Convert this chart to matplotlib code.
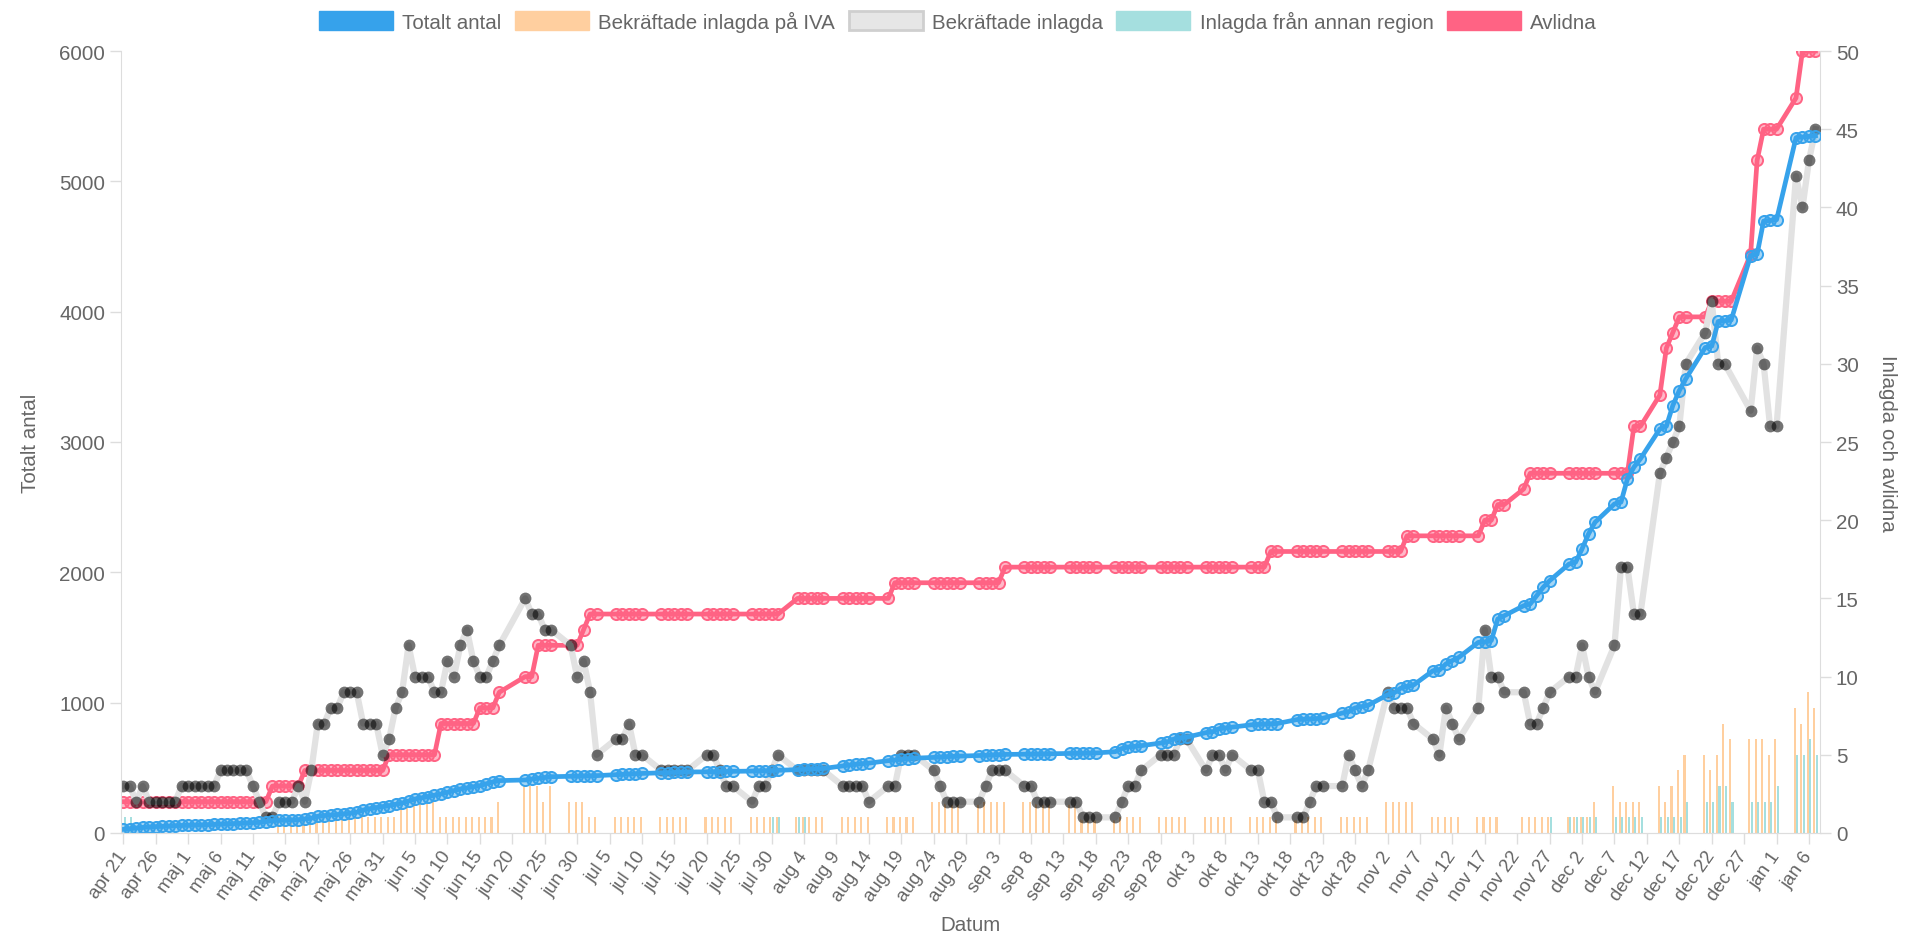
import matplotlib.pyplot as plt
import numpy as np
from matplotlib.patches import Patch

plt.rcParams['font.family'] = ['Liberation Sans', 'DejaVu Sans']

N = None
# en rad per vecka, dag 0 = tis 21 apr 2020 ; None = ingen rapport (helg/helgdag)
totalt_antal = [
    28, 33, 38, 43, 46, 49, 51,
    53, 56, 58, 59, 61, 62, 64,
    66, 68, 70, 72, 74, 77, 79,
    82, 88, 95, 97, 99, 100, 102,
    108, 113, 128, 134, 138, 142, 146,
    152, 159, 176, 186, 195, 203, 210,
    220, 230, 245, 261, 270, 280, 290,
    299, 312, 325, 338, 346, 355, 363,
    378, 392, 402, N, N, N, 407,
    414, 420, 426, 432, N, N, 435,
    436, 438, 439, 440, N, N, 447,
    450, 453, 455, 457, N, N, 462,
    464, 466, 467, 468, N, N, 469,
    470, 471, 472, 473, N, N, 475,
    477, 478, 479, 481, N, N, 486,
    488, 491, 493, 495, N, N, 515,
    522, 528, 532, 536, N, N, 555,
    560, 566, 570, 574, N, N, 580,
    583, 586, 588, 590, N, N, 594,
    596, 599, 601, 603, N, N, 604,
    605, 606, 607, 608, N, N, 610,
    611, 612, 613, 614, N, N, 624,
    648, 660, 665, 670, N, N, 690,
    698, 720, 728, 735, N, N, 770,
    776, 800, 806, 812, N, N, 830,
    833, 835, 838, 840, N, N, 870,
    873, 875, 878, 880, N, N, 920,
    930, 960, 970, 980, N, N, 1060,
    1075, 1110, 1125, 1135, N, N, 1245,
    1250, 1297, 1323, 1348, N, N, 1463,
    1465, 1476, 1642, 1667, N, N, 1744,
    1757, 1821, 1885, 1936, N, N, 2064,
    2077, 2180, 2295, 2384, N, N, 2525,
    2538, 2717, 2807, 2871, N, N, 3100,
    3120, 3280, 3395, 3485, N, N, 3725,
    3735, 3925, 3930, 3935, N, N, 4430,
    4440, 4695, 4700, 4705, N, N, 5335,
    5340, 5345, 5350,
]

avlidna = [
    2, 2, 2, 2, 2, 2, 2,
    2, 2, 2, 2, 2, 2, 2,
    2, 2, 2, 2, 2, 2, 2,
    2, 2, 3, 3, 3, 3, 3,
    4, 4, 4, 4, 4, 4, 4,
    4, 4, 4, 4, 4, 4, 5,
    5, 5, 5, 5, 5, 5, 5,
    7, 7, 7, 7, 7, 7, 8,
    8, 8, 9, N, N, N, 10,
    10, 12, 12, 12, N, N, 12,
    12, 13, 14, 14, N, N, 14,
    14, 14, 14, 14, N, N, 14,
    14, 14, 14, 14, N, N, 14,
    14, 14, 14, 14, N, N, 14,
    14, 14, 14, 14, N, N, 15,
    15, 15, 15, 15, N, N, 15,
    15, 15, 15, 15, N, N, 15,
    16, 16, 16, 16, N, N, 16,
    16, 16, 16, 16, N, N, 16,
    16, 16, 16, 17, N, N, 17,
    17, 17, 17, 17, N, N, 17,
    17, 17, 17, 17, N, N, 17,
    17, 17, 17, 17, N, N, 17,
    17, 17, 17, 17, N, N, 17,
    17, 17, 17, 17, N, N, 17,
    17, 17, 18, 18, N, N, 18,
    18, 18, 18, 18, N, N, 18,
    18, 18, 18, 18, N, N, 18,
    18, 18, 19, 19, N, N, 19,
    19, 19, 19, 19, N, N, 19,
    20, 20, 21, 21, N, N, 22,
    23, 23, 23, 23, N, N, 23,
    23, 23, 23, 23, N, N, 23,
    23, 23, 26, 26, N, N, 28,
    31, 32, 33, 33, N, N, 33,
    34, 34, 34, 34, N, N, 37,
    43, 45, 45, 45, N, N, 47,
    50, 50, 50,
]

bekraftade_inlagda = [
    3, 3, 2, 3, 2, 2, 2,
    2, 2, 3, 3, 3, 3, 3,
    3, 4, 4, 4, 4, 4, 3,
    2, 1, 1, 2, 2, 2, 3,
    2, 4, 7, 7, 8, 8, 9,
    9, 9, 7, 7, 7, 5, 6,
    8, 9, 12, 10, 10, 10, 9,
    9, 11, 10, 12, 13, 11, 10,
    10, 11, 12, N, N, N, 15,
    14, 14, 13, 13, N, N, 12,
    10, 11, 9, 5, N, N, 6,
    6, 7, 5, 5, N, N, 4,
    4, 4, 4, 4, N, N, 5,
    5, 4, 3, 3, N, N, 2,
    3, 3, 4, 5, N, N, 4,
    4, 4, 4, 4, N, N, 3,
    3, 3, 3, 2, N, N, 3,
    3, 5, 5, 5, N, N, 4,
    3, 2, 2, 2, N, N, 2,
    3, 4, 4, 4, N, N, 3,
    3, 2, 2, 2, N, N, 2,
    2, 1, 1, 1, N, N, 1,
    2, 3, 3, 4, N, N, 5,
    5, 5, 6, 6, N, N, 4,
    5, 5, 4, 5, N, N, 4,
    4, 2, 2, 1, N, N, 1,
    1, 2, 3, 3, N, N, 3,
    5, 4, 3, 4, N, N, 9,
    8, 8, 8, 7, N, N, 6,
    5, 8, 7, 6, N, N, 8,
    13, 10, 10, 9, N, N, 9,
    7, 7, 8, 9, N, N, 10,
    10, 12, 10, 9, N, N, 12,
    17, 17, 14, 14, N, N, 23,
    24, 25, 26, 30, N, N, 32,
    34, 30, 30, N, N, N, 27,
    31, 30, 26, 26, N, N, 42,
    40, 43, 45,
]

inlagda_iva = [
    0, 0, 0, 0, 0, 0, 0,
    0, 0, 0, 0, 0, 0, 0,
    0, 0, 0, 0, 0, 0, 0,
    0, 0, 0, 1, 1, 1, 1,
    1, 1, 1, 1, 1, 1, 1,
    1, 1, 1, 1, 1, 1, 1,
    1, 2, 2, 2, 2, 2, 2,
    1, 1, 1, 1, 1, 1, 1,
    1, 1, 2, N, N, N, 3,
    3, 3, 2, 3, N, N, 2,
    2, 2, 1, 1, N, N, 1,
    1, 1, 1, 1, N, N, 1,
    1, 1, 1, 1, N, N, 1,
    1, 1, 1, 1, N, N, 1,
    1, 1, 1, 1, N, N, 1,
    1, 1, 1, 1, N, N, 1,
    1, 1, 1, 1, N, N, 1,
    1, 1, 1, 1, N, N, 2,
    2, 2, 2, 2, N, N, 2,
    2, 2, 2, 2, N, N, 2,
    2, 2, 2, 2, N, N, 2,
    2, 1, 1, 1, N, N, 1,
    1, 1, 1, 1, N, N, 1,
    1, 1, 1, 1, N, N, 1,
    1, 1, 1, 1, N, N, 1,
    1, 1, 1, 1, N, N, 1,
    1, 1, 1, 1, N, N, 1,
    1, 1, 1, 1, N, N, 2,
    2, 2, 2, 2, N, N, 1,
    1, 1, 1, 1, N, N, 1,
    1, 1, 1, 0, N, N, 1,
    1, 1, 1, 1, N, N, 1,
    1, 1, 1, 2, N, N, 3,
    2, 2, 2, 2, N, N, 3,
    2, 3, 4, 5, N, N, 5,
    4, 5, 7, 6, N, N, 6,
    6, 6, 5, 6, N, N, 8,
    7, 9, 8,
]

annan_region = [
    1, 1, 0, 0, 0, 0, 0,
    0, 0, 0, 0, 0, 0, 0,
    0, 0, 0, 0, 0, 0, 0,
    0, 0, 0, 0, 0, 0, 0,
    0, 0, 0, 0, 0, 0, 0,
    0, 0, 0, 0, 0, 0, 0,
    0, 0, 0, 0, 0, 0, 0,
    0, 0, 0, 0, 0, 0, 0,
    0, 0, 0, N, N, N, 0,
    0, 0, 0, 0, N, N, 0,
    0, 0, 0, 0, N, N, 0,
    0, 0, 0, 0, N, N, 0,
    0, 0, 0, 0, N, N, 0,
    0, 0, 0, 0, N, N, 0,
    0, 0, 1, 1, N, N, 1,
    1, 0, 0, 0, N, N, 0,
    0, 0, 0, 0, N, N, 0,
    0, 0, 0, 0, N, N, 0,
    0, 0, 0, 0, N, N, 0,
    0, 0, 0, 0, N, N, 0,
    0, 0, 0, 0, N, N, 0,
    0, 0, 0, 0, N, N, 0,
    0, 0, 0, 0, N, N, 0,
    0, 0, 0, 0, N, N, 0,
    0, 0, 0, 0, N, N, 0,
    0, 0, 0, 0, N, N, 0,
    0, 0, 0, 0, N, N, 0,
    0, 0, 0, 0, N, N, 0,
    0, 0, 0, 0, N, N, 0,
    0, 0, 0, 0, N, N, 0,
    0, 0, 0, 0, N, N, 0,
    0, 0, 0, 1, N, N, 1,
    1, 1, 1, 1, N, N, 1,
    1, 1, 1, 1, N, N, 1,
    1, 1, 1, 2, N, N, 2,
    2, 3, 3, 2, N, N, 2,
    2, 2, 2, 3, N, N, 5,
    5, 6, 5,
]

datum_etiketter = [
    "apr 21", "apr 26", "maj 1", "maj 6", "maj 11", "maj 16", "maj 21", "maj 26", "maj 31",
    "jun 5", "jun 10", "jun 15", "jun 20", "jun 25", "jun 30", "jul 5", "jul 10", "jul 15",
    "jul 20", "jul 25", "jul 30", "aug 4", "aug 9", "aug 14", "aug 19", "aug 24", "aug 29",
    "sep 3", "sep 8", "sep 13", "sep 18", "sep 23", "sep 28", "okt 3", "okt 8", "okt 13",
    "okt 18", "okt 23", "okt 28", "nov 2", "nov 7", "nov 12", "nov 17", "nov 22", "nov 27",
    "dec 2", "dec 7", "dec 12", "dec 17", "dec 22", "dec 27", "jan 1", "jan 6",
]

blue = "#36a2eb"
red = "#ff6384"
orange = "#ffcf9f"
teal = "#a5dfdf"
grey_line = "#e2e2e2"
axis_col = "#dddddd"
text_col = "#666666"
fs = 14.8

x = np.arange(len(totalt_antal))


def points(series):
    arr = np.array(series, dtype=float)
    ok = ~np.isnan(arr)
    return x[ok], arr[ok]


fig = plt.figure(figsize=(19.05, 9.37), dpi=100)
ax = fig.add_axes([121 / 1905, 103 / 937, 1699 / 1905, 782 / 937])
ax2 = ax.twinx()

# staplar (höger axel)
xi, yi = points(inlagda_iva)
ax2.bar(xi - 0.2, yi, width=0.32, color=orange, zorder=1)
xa, ya = points(annan_region)
ax2.bar(xa + 0.2, ya, width=0.32, color=teal, zorder=1)

# avlidna
xr, yr = points(avlidna)
ax2.plot(xr, yr, color=red, lw=3.4, marker="o", ms=8, mfc=(1, 0.39, 0.52, 0.45),
         mec=red, mew=1.4, zorder=2)

# bekräftade inlagda
xg, yg = points(bekraftade_inlagda)
ax2.plot(xg, yg, color=grey_line, lw=4.5, zorder=3)
ax2.plot(xg, yg, ls="none", marker="o", ms=8.5, mfc=(0, 0, 0, 0.55), mec="none", zorder=4)

# totalt antal (vänster axel, överst)
xb, yb = points(totalt_antal)
ax.plot(xb, yb, color=blue, lw=3.4, marker="o", ms=8, mfc=(0.21, 0.64, 0.92, 0.45),
        mec=blue, mew=1.4)

ax.set_zorder(ax2.get_zorder() + 1)
ax.patch.set_visible(False)

ax.set_xlim(-0.35, 261.7)
ax.set_ylim(0, 6000)
ax2.set_ylim(0, 50)
ax.set_yticks(range(0, 6001, 1000))
ax2.set_yticks(range(0, 51, 5))
ax.set_xticks(range(0, 261, 5))
ax.set_xticklabels(datum_etiketter, rotation=55, ha="right", va="center", rotation_mode="anchor")

for a in (ax, ax2):
    for s in a.spines.values():
        s.set_color(axis_col)
    a.spines["top"].set_visible(False)
    a.tick_params(colors=axis_col, labelcolor=text_col, labelsize=fs, length=8, width=1)
ax.spines["right"].set_visible(False)
ax2.spines["left"].set_visible(False)
ax.tick_params(axis="x", pad=6, labelsize=13.5)

fig.text(30 / 1905, 1 - 443 / 937, "Totalt antal", rotation=90, ha="center", va="center",
         color=text_col, fontsize=fs)
fig.text(1887 / 1905, 1 - 443 / 937, "Inlagda och avlidna", rotation=270, ha="center",
         va="center", color=text_col, fontsize=fs)
fig.text(970 / 1905, 1 - 926 / 937, "Datum", ha="center", va="center", color=text_col, fontsize=fs)

handles = [
    Patch(facecolor=blue, edgecolor=blue),
    Patch(facecolor=orange, edgecolor=orange),
    Patch(facecolor="#e6e6e6", edgecolor="#cfcfcf", linewidth=2),
    Patch(facecolor=teal, edgecolor=teal),
    Patch(facecolor=red, edgecolor=red),
]
labels = ["Totalt antal", "Bekräftade inlagda på IVA", "Bekräftade inlagda",
          "Inlagda från annan region", "Avlidna"]
fig.legend(handles, labels, loc="center", bbox_to_anchor=(958 / 1905, 1 - 22 / 937), ncol=5,
           frameon=False, handlelength=3.6, handleheight=1.05, handletextpad=0.45,
           columnspacing=0.66, fontsize=fs, labelcolor=text_col)

fig.savefig("out.png", dpi=100)
